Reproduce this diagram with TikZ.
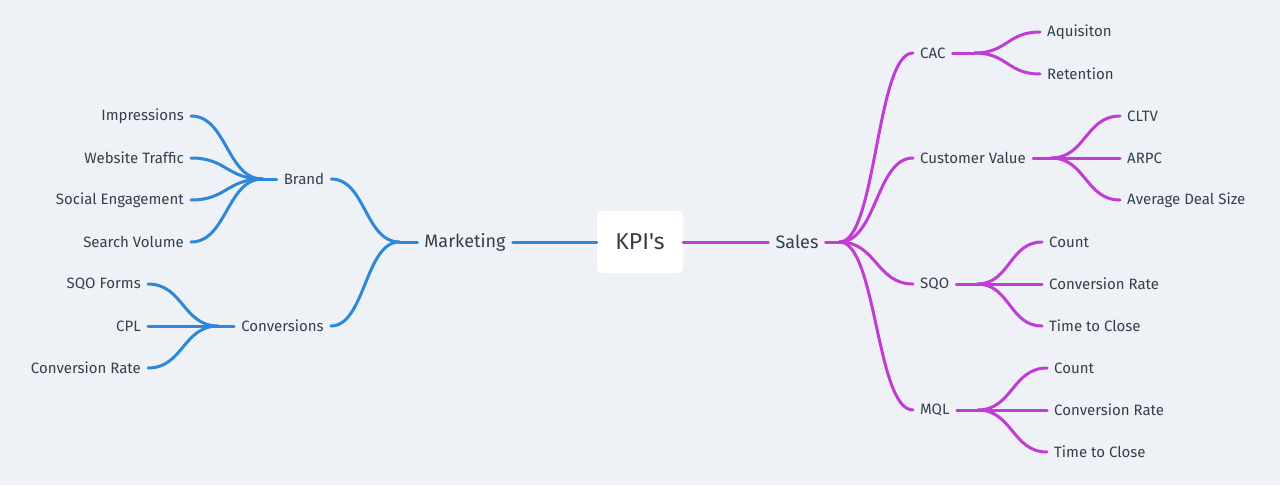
\documentclass[tikz,border=0pt]{standalone}
\usepackage{fontspec}
\setmainfont{Fira Sans}[Ligatures=TeXOff]
\usepackage{tikz}
\usetikzlibrary{positioning,calc}

\definecolor{bgc}{HTML}{EEF2F6}
\definecolor{txt}{HTML}{353E49}
\definecolor{mblue}{HTML}{2E88DA}
\definecolor{smag}{HTML}{C03CD4}

\tikzset{
  leaf/.style={text=txt,font=\fontsize{15}{17}\selectfont,inner xsep=7pt,inner ysep=2pt},
  mid/.style={leaf},
  top/.style={text=txt,font=\fontsize{18}{21}\selectfont,inner xsep=7pt},
  bl/.style={draw=mblue,line width=3pt,line cap=round},
  ml/.style={draw=smag,line width=3pt,line cap=round},
  branch/.style={to path={let \p1=(\tikztostart), \p2=(\tikztotarget) in
    .. controls ({(\x1+\x2)/2},\y1) and ({(\x1+\x2)/2},\y2) .. (\tikztotarget)}}
}

\begin{document}
\begin{tikzpicture}[x=1pt,y=-1pt]
  \fill[bgc] (0,0) rectangle (1280,485);
  \useasboundingbox (0,0) rectangle (1280,485);

  % centre
  \node (kpi) [fill=white,rounded corners=5pt,minimum width=86pt,minimum height=62pt,
    text=txt,font=\fontsize{23}{26}\selectfont] at (640,242) {KPI's};
  \node (mkt) [top] at (465,242) {Marketing};
  \node (sales) [top] at (797,242) {Sales};

  % marketing side
  \node (brand) [mid] at (304,179) {Brand};
  \node (conv) [mid] at (282.5,326) {Conversions};
  \node (imp) [leaf,anchor=east] at (191,116) {Impressions};
  \node (web) [leaf,anchor=east] at (191,158) {Website Traffic};
  \node (soc) [leaf,anchor=east] at (191,200) {Social Engagement};
  \node (sea) [leaf,anchor=east] at (191,242) {Search Volume};
  \node (sqof) [leaf,anchor=east] at (148,284) {SQO Forms};
  \node (cpl) [leaf,anchor=east] at (148,326) {CPL};
  \node (cvr) [leaf,anchor=east] at (148,368) {Conversion Rate};

  % sales side
  \node (cac) [mid,anchor=west] at (913,53) {CAC};
  \node (cv) [mid,anchor=west] at (913,158) {Customer Value};
  \node (sqo) [mid,anchor=west] at (913,284) {SQO};
  \node (mql) [mid,anchor=west] at (913,410) {MQL};
  \node (acq) [leaf,anchor=west] at (1040,32) {Aquisiton};
  \node (ret) [leaf,anchor=west] at (1040,74) {Retention};
  \node (cltv) [leaf,anchor=west] at (1120,116) {CLTV};
  \node (arpc) [leaf,anchor=west] at (1120,158) {ARPC};
  \node (ads) [leaf,anchor=west] at (1120,200) {Average Deal Size};
  \node (sqc) [leaf,anchor=west] at (1042,242) {Count};
  \node (sqr) [leaf,anchor=west] at (1042,284) {Conversion Rate};
  \node (sqt) [leaf,anchor=west] at (1042,326) {Time to Close};
  \node (mqc) [leaf,anchor=west] at (1047,368) {Count};
  \node (mqr) [leaf,anchor=west] at (1047,410) {Conversion Rate};
  \node (mqt) [leaf,anchor=west] at (1047,452) {Time to Close};

  % forks
  \coordinate (mf) at ($(mkt.west)+(-18,0)$);
  \coordinate (bf) at ($(brand.west)+(-14,0)$);
  \coordinate (cf) at ($(conv.west)+(-16,0)$);
  \coordinate (sf) at ($(sales.east)+(14,0)$);
  \coordinate (caf) at ($(cac.east)+(22,0)$);
  \coordinate (cvf) at ($(cv.east)+(18,0)$);
  \coordinate (sqf) at ($(sqo.east)+(21,0)$);
  \coordinate (mqf) at ($(mql.east)+(21,0)$);

  % connectors
  \draw[bl] (kpi.west) -- (mkt.east);
  \draw[bl] (mkt.west) -- (mf);
  \foreach \c in {brand,conv} \draw[bl] (mf) to[branch] (\c.east);
  \draw[bl] (brand.west) -- (bf);
  \foreach \c in {imp,web,soc,sea} \draw[bl] (bf) to[branch] (\c.east);
  \draw[bl] (conv.west) -- (cf);
  \foreach \c in {sqof,cpl,cvr} \draw[bl] (cf) to[branch] (\c.east);

  \draw[ml] (kpi.east) -- (sales.west);
  \draw[ml] (sales.east) -- (sf);
  \foreach \c in {cac,cv,sqo,mql} \draw[ml] (sf) to[branch] (\c.west);
  \draw[ml] (cac.east) -- (caf);
  \foreach \c in {acq,ret} \draw[ml] (caf) to[branch] (\c.west);
  \draw[ml] (cv.east) -- (cvf);
  \foreach \c in {cltv,arpc,ads} \draw[ml] (cvf) to[branch] (\c.west);
  \draw[ml] (sqo.east) -- (sqf);
  \foreach \c in {sqc,sqr,sqt} \draw[ml] (sqf) to[branch] (\c.west);
  \draw[ml] (mql.east) -- (mqf);
  \foreach \c in {mqc,mqr,mqt} \draw[ml] (mqf) to[branch] (\c.west);
\end{tikzpicture}
\end{document}
